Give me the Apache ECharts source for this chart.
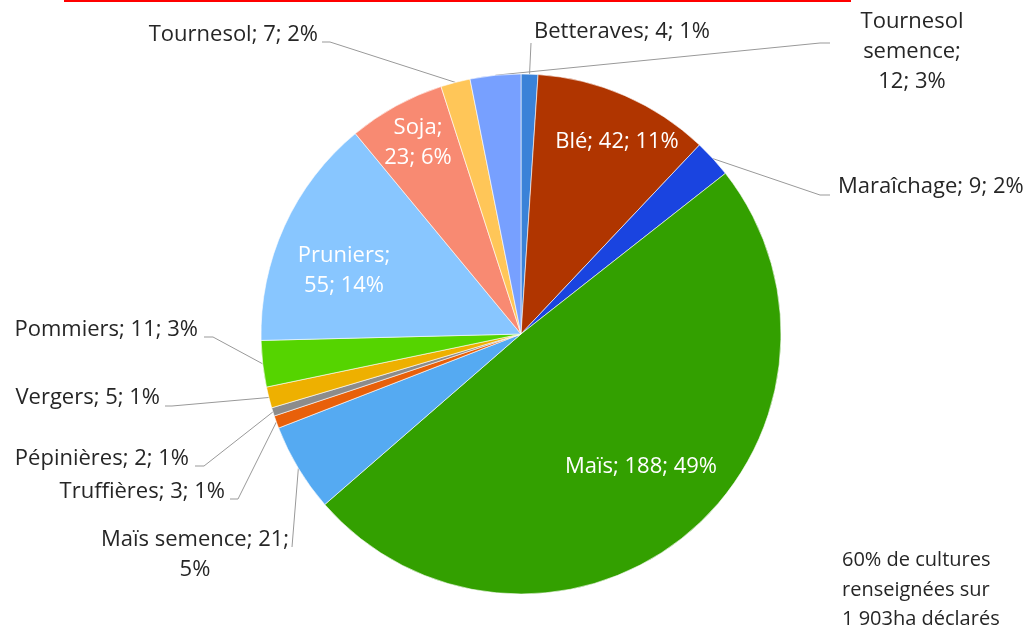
<!DOCTYPE html>
<html>
<head>
<meta charset="utf-8">
<script src="https://cdn.jsdelivr.net/npm/echarts@6/dist/echarts.min.js"></script>
<style>
  html, body { margin: 0; padding: 0; background: #fff; }
  #chart { width: 1031px; height: 628px; }
</style>
</head>
<body>
<div id="chart"></div>
<script>
// cultures, clockwise from 12 o'clock
const cats = ['Betteraves', 'Blé', 'Maraîchage', 'Maïs', 'Maïs semence', 'Truffières',
  'Pépinières', 'Vergers', 'Pommiers', 'Pruniers', 'Soja', 'Tournesol', 'Tournesol semence'];
const values = [4, 42, 9, 188, 21, 3, 2, 5, 11, 55, 23, 7, 12];
const colors = ['#3A82D8', '#B03500', '#1A44E0', '#33A000', '#55AAF2', '#E8600A',
  '#8C8C8C', '#EEB000', '#55D400', '#88C6FF', '#F88A72', '#FFC658', '#77A0FF'];
const insideNames = ['Blé', 'Maïs', 'Pruniers', 'Soja'];
const breakAfterName = ['Pruniers', 'Soja', 'Tournesol semence'];
const breakAfterValue = ['Maïs semence'];
const noteLines = ['60% de cultures', 'renseignées sur', '1 903ha déclarés'];

const total = values.reduce((a, b) => a + b, 0);

// where each label sits (text anchor) and the elbow of its leader line
const labelPos = {
  'Betteraves': { x: 534, y: 32, align: 'left', line: [[531, 43], [531, 43]] },
  'Blé': { x: 617, y: 142, align: 'center' },
  'Maraîchage': { x: 838, y: 187, align: 'left', line: [[820, 195], [830, 195]] },
  'Maïs': { x: 641, y: 467, align: 'center' },
  'Maïs semence': { x: 195, y: 555, align: 'center', line: [[292, 547], [292, 547]] },
  'Truffières': { x: 225, y: 492, align: 'right', line: [[238, 499], [230, 499]] },
  'Pépinières': { x: 189, y: 459, align: 'right', line: [[204, 466], [195, 466]] },
  'Vergers': { x: 160, y: 398, align: 'right', line: [[172, 406], [165, 406]] },
  'Pommiers': { x: 198, y: 330, align: 'right', line: [[213, 337], [204, 337]] },
  'Pruniers': { x: 344, y: 271, align: 'center' },
  'Soja': { x: 418, y: 143, align: 'center' },
  'Tournesol': { x: 318, y: 35, align: 'right', line: [[330, 42], [322, 42]] },
  'Tournesol semence': { x: 912, y: 52, align: 'center', line: [[820, 43], [830, 43]] }
};

function labelText(p) {
  const pct = Math.round(p.value / total * 100);
  let name = p.name;
  let sep1 = '; ';
  let sep2 = '; ';
  if (name === 'Tournesol semence') name = 'Tournesol\nsemence';
  if (breakAfterName.includes(p.name)) sep1 = ';\n';
  if (breakAfterValue.includes(p.name)) sep2 = ';\n';
  return name + sep1 + p.value + sep2 + pct + '%';
}

const pieData = cats.map((c, i) => {
  const inside = insideNames.includes(c);
  return {
    name: c,
    value: values[i],
    itemStyle: { color: colors[i] },
    label: { position: inside ? 'inside' : 'outside', color: inside ? '#ffffff' : '#262626' },
    labelLine: { show: !inside }
  };
});

const chart = echarts.init(document.getElementById('chart'));

chart.setOption({
  animation: false,
  graphic: [
    {
      type: 'line',
      shape: { x1: 64, y1: 1, x2: 851, y2: 1 },
      style: { stroke: '#FF0000', lineWidth: 2 }
    },
    {
      type: 'text',
      left: 842,
      top: 546,
      style: {
        text: noteLines.join('\n'),
        font: '20px "Open Sans"',
        lineHeight: 29.5,
        fill: '#262626'
      }
    }
  ],
  series: [{
    type: 'pie',
    center: [521, 334],
    radius: 260,
    startAngle: 90,
    clockwise: true,
    avoidLabelOverlap: false,
    data: pieData,
    itemStyle: { borderColor: '#ffffff', borderWidth: 0.6 },
    label: {
      fontFamily: 'Open Sans',
      fontSize: 22,
      lineHeight: 30,
      formatter: labelText
    },
    labelLine: {
      length: 10,
      length2: 10,
      lineStyle: { color: '#999999', width: 1 }
    },
    labelLayout: function (params) {
      const pos = labelPos[cats[params.dataIndex]];
      const out = { x: pos.x, y: pos.y, align: pos.align, verticalAlign: 'middle' };
      if (pos.line && params.labelLinePoints) {
        out.labelLinePoints = [params.labelLinePoints[0]].concat(pos.line);
      }
      return out;
    }
  }]
});
</script>
</body>
</html>
